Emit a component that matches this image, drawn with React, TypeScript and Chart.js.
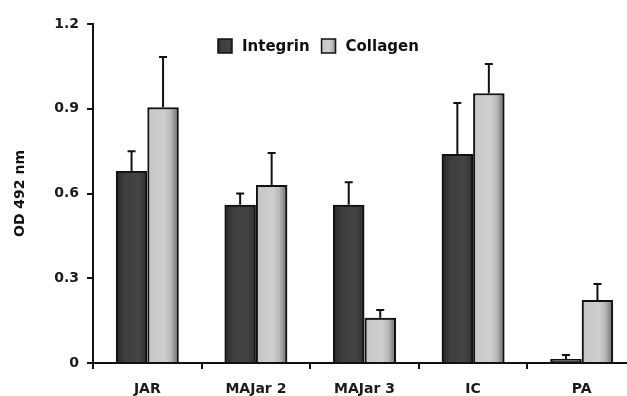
import React, { useEffect, useRef } from "react";
import { Chart, registerables } from "chart.js";
Chart.register(...registerables);

const categories = ["JAR", "MAJar 2", "MAJar 3", "IC", "PA"];
const seriesNames = ["Integrin", "Collagen"];
const integrin = [0.68, 0.56, 0.56, 0.74, 0.014];
const integrinErr = [0.07, 0.04, 0.08, 0.18, 0.014];
const collagen = [0.905, 0.63, 0.16, 0.955, 0.223];
const collagenErr = [0.178, 0.113, 0.028, 0.103, 0.057];
const yTicks = [0, 0.3, 0.6, 0.9, 1.2];
const yTickLabels = ["0", "0.3", "0.6", "0.9", "1.2"];
const yTitle = "OD 492 nm";

const FONT = "'DejaVu Sans', Verdana, sans-serif";
const fills = ["#3e3e3e", "#c9c9c9"];
const gradStops: [number, string][][] = [
  [[0, "#2c2c2c"], [0.25, "#3e3e3e"], [0.75, "#444444"], [1, "#333333"]],
  [[0, "#c6c6c6"], [0.55, "#cfcfcf"], [0.78, "#b9b9b9"], [1, "#7c7c7c"]],
];

const barShading = {
  id: "barShading",
  afterDatasetDraw(chart: any, args: any) {
    const ctx = chart.ctx;
    const i = args.index;
    const meta = args.meta;
    meta.data.forEach((bar: any) => {
      const l = bar.x - bar.width / 2 + 2;
      const r = bar.x + bar.width / 2 - 2;
      const t = Math.min(bar.y, bar.base) + 2;
      const b = Math.max(bar.y, bar.base);
      if (b - t <= 0 || r - l <= 0) return;
      const g = ctx.createLinearGradient(l, 0, r, 0);
      gradStops[i].forEach(([o, c]) => g.addColorStop(o, c));
      ctx.save();
      ctx.fillStyle = g;
      ctx.fillRect(l, t, r - l, b - t);
      ctx.restore();
    });
  },
};

const errorBars = {
  id: "errorBars",
  afterDatasetsDraw(chart: any) {
    const ctx = chart.ctx;
    const y = chart.scales.y;
    chart.data.datasets.forEach((ds: any, i: number) => {
      const meta = chart.getDatasetMeta(i);
      meta.data.forEach((bar: any, j: number) => {
        const v = ds.data[j];
        const e = ds.errors[j];
        const yTop = y.getPixelForValue(v + e);
        const yBar = y.getPixelForValue(v);
        ctx.save();
        ctx.strokeStyle = "#111";
        ctx.lineWidth = 2;
        ctx.beginPath();
        ctx.moveTo(bar.x, yBar);
        ctx.lineTo(bar.x, yTop);
        ctx.moveTo(bar.x - 4, yTop);
        ctx.lineTo(bar.x + 4, yTop);
        ctx.stroke();
        ctx.restore();
      });
    });
  },
};

const customLegend = {
  id: "customLegend",
  afterDraw(chart: any) {
    const ctx = chart.ctx;
    const a = chart.chartArea;
    let x = a.left + 125;
    const yMid = a.top + 22;
    ctx.save();
    ctx.font = `bold 15px ${FONT}`;
    ctx.textBaseline = "middle";
    chart.data.datasets.forEach((ds: any, i: number) => {
      const g = ctx.createLinearGradient(x, 0, x + 14, 0);
      gradStops[i].forEach(([o, c]) => g.addColorStop(o, c));
      ctx.fillStyle = g;
      ctx.fillRect(x, yMid - 7, 14, 14);
      ctx.strokeStyle = "#111";
      ctx.lineWidth = 1.5;
      ctx.strokeRect(x, yMid - 7, 14, 14);
      ctx.fillStyle = "#111";
      ctx.fillText(ds.label, x + 24, yMid + 1);
      x += 24 + ctx.measureText(ds.label).width + 12;
    });
    ctx.restore();
  },
};

export default function App() {
  const ref = useRef<HTMLCanvasElement | null>(null);
  useEffect(() => {
    const canvas = ref.current!;
    const chart = new Chart(canvas, {
      type: "bar",
      data: {
        labels: categories,
        datasets: [
          {
            label: seriesNames[0],
            data: integrin,
            errors: integrinErr,
            backgroundColor: fills[0],
            borderColor: "#111",
            borderWidth: 2.5,
            categoryPercentage: 0.58,
            barPercentage: 1,
          } as any,
          {
            label: seriesNames[1],
            data: collagen,
            errors: collagenErr,
            backgroundColor: fills[1],
            borderColor: "#111",
            borderWidth: 2.5,
            categoryPercentage: 0.58,
            barPercentage: 1,
          } as any,
        ],
      },
      options: {
        responsive: false,
        animation: false,
        devicePixelRatio: 1,
        layout: { padding: { top: 24, right: 9, left: 0, bottom: 0 } },
        plugins: { legend: { display: false }, tooltip: { enabled: false } },
        scales: {
          x: {
            grid: { display: true, drawOnChartArea: false, drawTicks: true, tickLength: 6, color: "#111", lineWidth: 2, offset: true },
            border: { display: true, color: "#111", width: 2 },
            ticks: { color: "#1a1a1a", font: { family: FONT, size: 14, weight: "bold" }, padding: 12, maxRotation: 0 },
            afterFit: (s: any) => { s.height = 33; },
          },
          y: {
            min: 0,
            max: 1.2,
            afterBuildTicks: (s: any) => { s.ticks = yTicks.map((v) => ({ value: v })); },
            grid: { display: true, drawOnChartArea: false, drawTicks: true, tickLength: 6, color: "#111", lineWidth: 2 },
            border: { display: true, color: "#111", width: 2 },
            ticks: {
              color: "#1a1a1a",
              font: { family: FONT, size: 14, weight: "bold" },
              padding: 8,
              callback: (_v: any, i: number) => yTickLabels[i],
            },
            title: { display: true, text: yTitle, color: "#111", font: { family: FONT, size: 14, weight: "bold" }, padding: { top: 12, bottom: 0 } },
            afterFit: (s: any) => { s.width = 93; },
          },
        },
      },
      plugins: [barShading, errorBars, customLegend],
    });
    return () => chart.destroy();
  }, []);
  return (
    <div style={{ position: "fixed", left: 0, top: 0, width: 645, height: 396, background: "#fff" }}>
      <canvas ref={ref} width={645} height={396} />
    </div>
  );
}
